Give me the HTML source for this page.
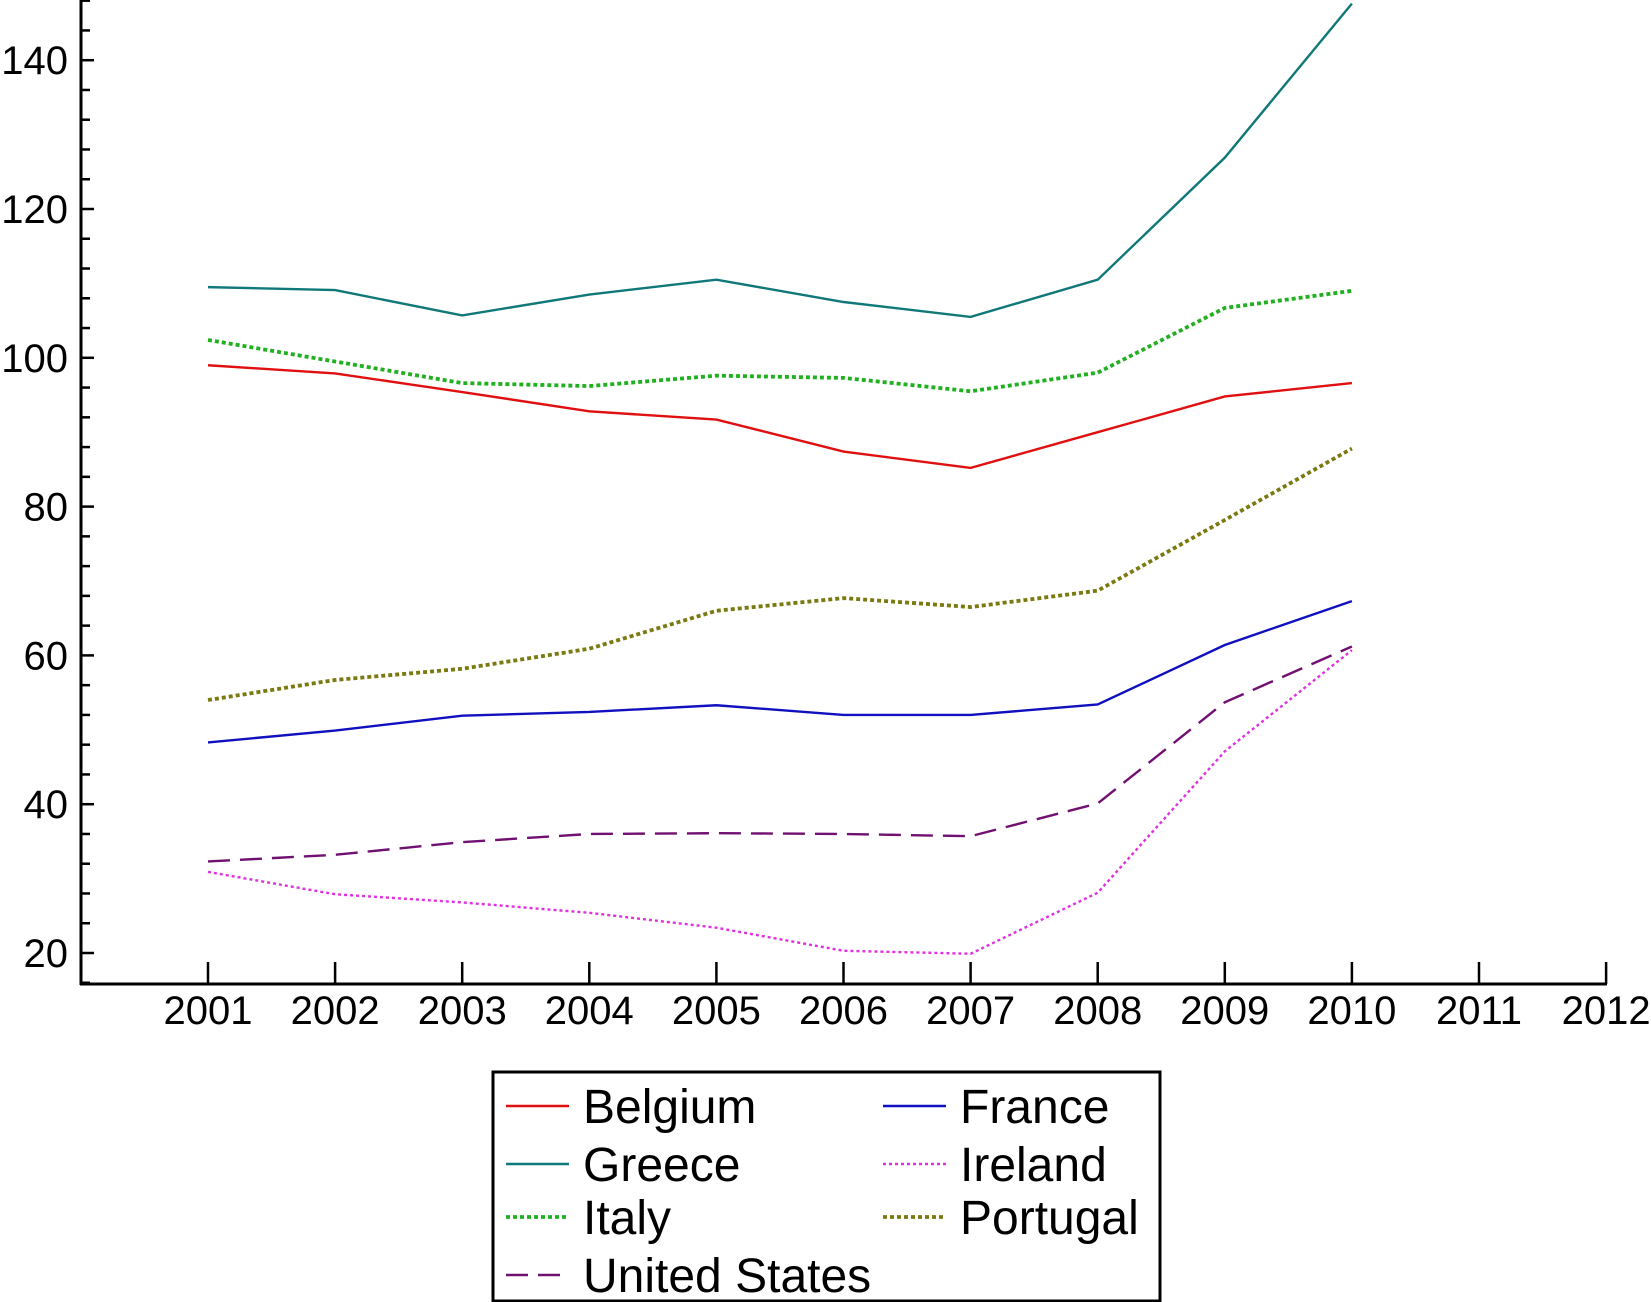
<!DOCTYPE html>
<html><head><meta charset="utf-8"><style>
body{margin:0;background:#fff}
svg{display:block;font-family:"Liberation Sans",sans-serif}
</style></head><body>
<svg id="chart" width="1651" height="1302" viewBox="0 0 1651 1302">
<g id="axes"></g>
<g id="series"></g>
<g id="legend"></g>
</svg>
<script>
const years=[2001,2002,2003,2004,2005,2006,2007,2008,2009,2010];
const xTicks=[2001,2002,2003,2004,2005,2006,2007,2008,2009,2010,2011,2012];
const yTicks=[20,40,60,80,100,120,140];
const belgium=[99,97.9,95.4,92.8,91.7,87.4,85.2,90,94.8,96.6];
const france=[48.3,49.9,51.9,52.4,53.3,52,52,53.4,61.4,67.3];
const greece=[109.5,109.1,105.7,108.5,110.5,107.5,105.5,110.5,126.9,147.6];
const ireland=[30.9,27.9,26.8,25.4,23.4,20.3,19.9,28.1,47.1,60.7];
const italy=[102.4,99.5,96.6,96.2,97.6,97.3,95.5,98,106.7,109];
const portugal=[54,56.7,58.2,60.9,66,67.7,66.5,68.7,78.2,87.8];
const unitedStates=[32.3,33.2,34.9,36,36.1,36,35.7,40.1,53.7,61.2];
const NS='http://www.w3.org/2000/svg';
const x=v=>208+(v-2001)*127.1;
const y=v=>953-(v-20)*7.44;
function mk(t,a,p){const e=document.createElementNS(NS,t);for(const k in a)e.setAttribute(k,a[k]);p.appendChild(e);return e;}
const ax=document.getElementById('axes');
let e=mk('line',{x1:81,y1:0,x2:81,y2:985,stroke:'#000','stroke-width':3},ax);


e=mk('line',{x1:80,y1:984,x2:1607,y2:984,stroke:'#000','stroke-width':3},ax);


for(let v=16;v<=148;v+=4){if(y(v)<0||y(v)>984)continue;const maj=(v%20===0);
 mk('line',{x1:81,y1:y(v),x2:81+(maj?13:9),y2:y(v),stroke:'#000','stroke-width':2.5},ax);}
yTicks.forEach(v=>{const t=mk('text',{x:68,y:y(v)+14,'text-anchor':'end','font-size':40},ax);t.textContent=v;
 
 });
xTicks.forEach(v=>{mk('line',{x1:x(v),y1:984,x2:x(v),y2:962,stroke:'#000','stroke-width':2.5},ax);
 const t=mk('text',{x:x(v),y:1024,'text-anchor':'middle','font-size':40},ax);t.textContent=v;
 
 });
const series=[
 ['Belgium',belgium,'#e01010',2.4,null],
 ['France',france,'#1010c0',2.4,null],
 ['Greece',greece,'#107878',2.4,null],
 ['Ireland',ireland,'#e030e0',2.4,'3 3'],
 ['Italy',italy,'#20b020',3.8,'4 3'],
 ['Portugal',portugal,'#7a7a10',3.8,'4 3'],
 ['United States',unitedStates,'#701070',2.4,'22 10']];
const sg=document.getElementById('series');
series.forEach(s=>{const a={points:s[1].map((v,i)=>x(years[i])+','+y(v)).join(' '),fill:'none',stroke:s[2],'stroke-width':s[3]};
 if(s[4])a['stroke-dasharray']=s[4];
 const p=mk('polyline',a,sg);
 
 });
const lg=document.getElementById('legend');
e=mk('rect',{x:493,y:1072,width:667,height:229,fill:'#fff',stroke:'#000','stroke-width':3},lg);


const order=[[0,0,0],[1,1,0],[2,0,1],[3,1,1],[4,0,2],[5,1,2],[6,0,3]];
const rowsY=[1106,1164,1217,1275];
order.forEach(o=>{const s=series[o[0]];const lx=o[1]?883:506;const ry=rowsY[o[2]];
 const a={x1:lx,y1:ry,x2:lx+63,y2:ry,stroke:s[2],'stroke-width':s[3]};if(s[4])a['stroke-dasharray']=s[4];
 mk('line',a,lg);
 const t=mk('text',{x:lx+77,y:ry+17,'font-size':48},lg);t.textContent=s[0];
 
 });
</script>
</body></html>
